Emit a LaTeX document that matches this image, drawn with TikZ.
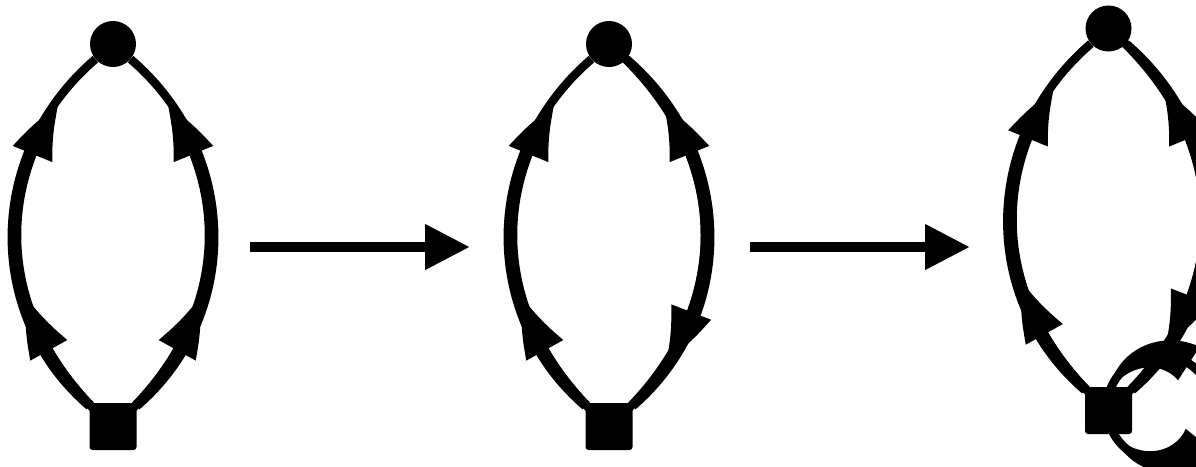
\documentclass[tikz,border=0pt]{standalone}
\usetikzlibrary{arrows.meta,bending,calc}
\pgfdeclarelayer{bg}
\pgfsetlayers{bg,main}
\tikzset{
 vdot/.style={circle,fill=black,inner sep=0pt,minimum size=46pt},
 vsq/.style={rectangle,fill=black,rounded corners=3pt,inner sep=0pt,minimum size=47pt},
 prop/.style={line width=8.5pt,black},
 tipline/.style={line width=8.5pt,-{Triangle[length=58pt,width=40pt,bend]}},
 bigarrow/.style={line width=10.5pt,-{Triangle[length=45pt,width=43pt]}},
}
% sub-curve [0,t] of the cubic (#1,#2,#3,#4), drawn with a bent arrow tip at its end
\newcommand\arcarrow[5]{%
 \coordinate (qa) at ($(#1)!#5!(#2)$);
 \coordinate (qb) at ($(#2)!#5!(#3)$);
 \coordinate (qc) at ($(#3)!#5!(#4)$);
 \coordinate (qd) at ($(qa)!#5!(qb)$);
 \coordinate (qe) at ($(qb)!#5!(qc)$);
 \coordinate (qf) at ($(qd)!#5!(qe)$);
 \draw[tipline] (#1) .. controls (qa) and (qd) .. (qf);
}
% bent arrowhead on the self loop: centre (cx,cy), radius 53, tip angle #3, back angle #4
\newcommand\looparrow[4]{%
 \fill plot[domain=0:1,samples=40,smooth] ({#1+(53+20*\x)*cos(#3+(#4-#3)*\x)},{#2+(53+20*\x)*sin(#3+(#4-#3)*\x)})
   -- plot[domain=1:0,samples=40,smooth] ({#1+(53-20*\x)*cos(#3+(#4-#3)*\x)},{#2+(53-20*\x)*sin(#3+(#4-#3)*\x)}) -- cycle;
}
\begin{document}
\begin{tikzpicture}[x=1pt,y=-1pt]
\useasboundingbox (0,0) rectangle (1196,466);
\clip (0,0) rectangle (1196,466);
% diagram 1
\node[vdot] (c1) at (113,44) {};
\node[vsq] (s1) at (113,426.5) {};
% diagram 2
\node[vdot] (c2) at (609,44) {};
\node[vsq] (s2) at (609,426.5) {};
% diagram 3
\node[vdot] (c3) at (1108.5,28.5) {};
\node[vsq] (s3) at (1108.5,410.5) {};
\coordinate (lc) at (1160,408);
% control points of the arcs
\coordinate (l1a) at (-15,316.5);  \coordinate (l1b) at (-15,154);
\coordinate (r1a) at (241,316.5);  \coordinate (r1b) at (241,154);
\coordinate (l2a) at (481,316.5);  \coordinate (l2b) at (481,154);
\coordinate (r2a) at (737,316.5);  \coordinate (r2b) at (737,154);
\coordinate (l3a) at (980.5,300.5); \coordinate (l3b) at (980.5,138.5);
\coordinate (r3a) at (1236.5,300.5); \coordinate (r3b) at (1236.5,138.5);
\coordinate (s1c) at (s1.center); \coordinate (c1c) at (c1.center);
\coordinate (s2c) at (s2.center); \coordinate (c2c) at (c2.center);
\coordinate (s3c) at (s3.center); \coordinate (c3c) at (c3.center);
% transition arrows
\coordinate (h1a) at (250,247);
\coordinate (h1b) at (470,247);
\coordinate (h2a) at (750,247);
\coordinate (h2b) at (970,247);
\draw[bigarrow] (h1a) -- (h1b);
\draw[bigarrow] (h2a) -- (h2b);
\begin{pgfonlayer}{bg}
% diagram 1
\draw[prop] (s1) .. controls (l1a) and (l1b) .. (c1);
\draw[prop] (s1) .. controls (r1a) and (r1b) .. (c1);
\arcarrow{s1c}{l1a}{l1b}{c1c}{0.35}
\arcarrow{s1c}{l1a}{l1b}{c1c}{0.83}
\arcarrow{s1c}{r1a}{r1b}{c1c}{0.35}
\arcarrow{s1c}{r1a}{r1b}{c1c}{0.83}
% diagram 2
\draw[prop] (s2) .. controls (l2a) and (l2b) .. (c2);
\draw[prop] (s2) .. controls (r2a) and (r2b) .. (c2);
\arcarrow{s2c}{l2a}{l2b}{c2c}{0.35}
\arcarrow{s2c}{l2a}{l2b}{c2c}{0.83}
\arcarrow{c2c}{r2b}{r2a}{s2c}{0.82}
\arcarrow{s2c}{r2a}{r2b}{c2c}{0.83}
% diagram 3
\draw[prop] (s3) .. controls (l3a) and (l3b) .. (c3);
\draw[prop] (s3) .. controls (r3a) and (r3b) .. (c3);
\arcarrow{s3c}{l3a}{l3b}{c3c}{0.35}
\arcarrow{s3c}{l3a}{l3b}{c3c}{0.83}
\arcarrow{c3c}{r3b}{r3a}{s3c}{0.82}
\arcarrow{s3c}{r3a}{r3b}{c3c}{0.83}
% self loop
\draw[prop] (lc) circle[radius=53pt];
\looparrow{1160}{408}{-164}{-57}
\looparrow{1160}{408}{152}{39}
\end{pgfonlayer}
\end{tikzpicture}
\end{document}
